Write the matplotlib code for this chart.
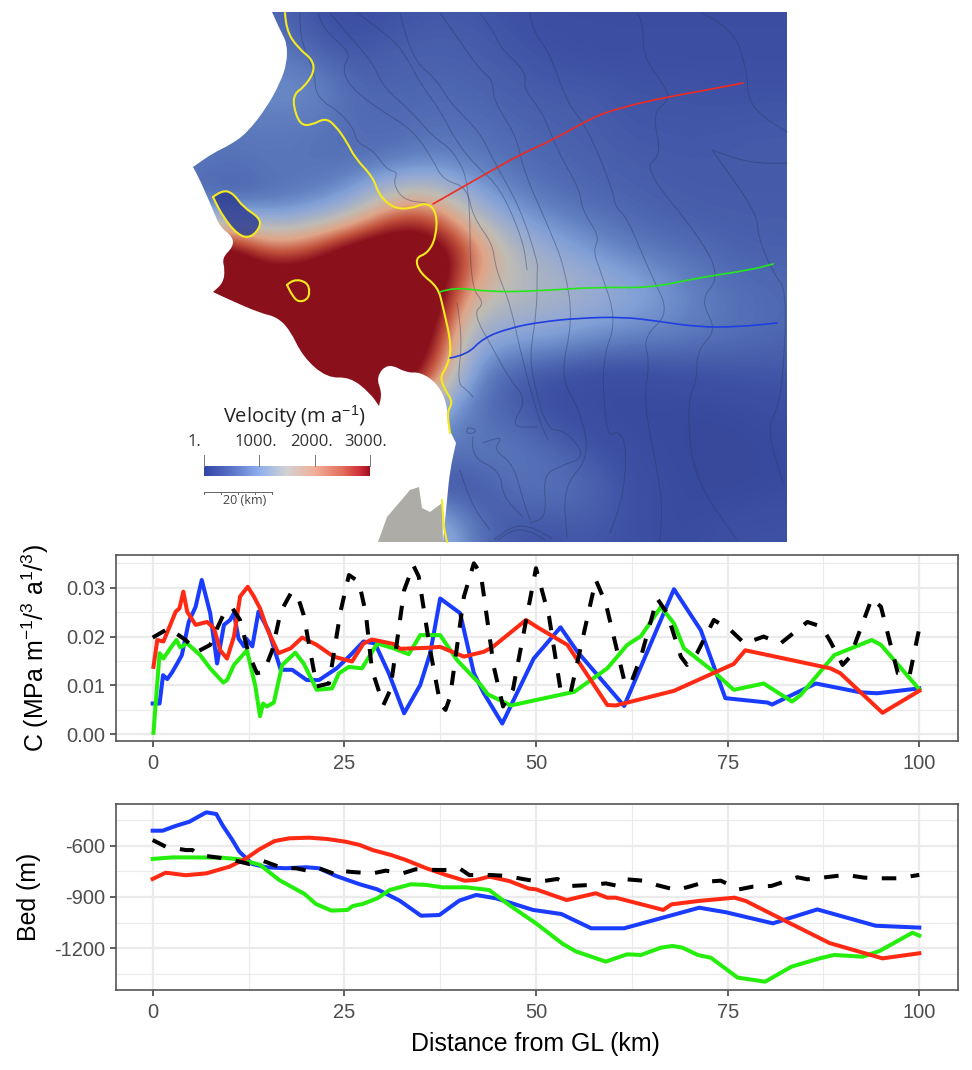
#!/usr/bin/env python3
import matplotlib

matplotlib.use("Agg")
import matplotlib.pyplot as plt
import numpy as np
from matplotlib.colors import LinearSegmentedColormap
from matplotlib.patches import PathPatch, Polygon
from matplotlib.path import Path

plt.rcParams["font.family"] = ["Liberation Sans", "DejaVu Sans"]
plt.rcParams["mathtext.fontset"] = "custom"
plt.rcParams["mathtext.rm"] = "Liberation Sans"
plt.rcParams["mathtext.default"] = "rm"

W, H = 972, 1070
OUT = "out.png"

# --- velocity map
GRID_X = [190, 230, 270, 310, 350, 390, 430, 470, 510, 550, 590, 630, 670, 710, 750, 790]
GRID_Y = [10, 50, 90, 130, 170, 210, 250, 290, 330, 370, 410, 450, 490, 530]
VELOCITY = [
    [400, 400, 400, 260, 190, 240, 290, 290, 240, 190, 190, 190, 190, 190, 190, 190],
    [450, 450, 520, 380, 270, 340, 350, 340, 290, 240, 210, 210, 210, 210, 210, 210],
    [600, 600, 680, 680, 420, 370, 400, 380, 340, 310, 310, 270, 270, 250, 250, 250],
    [500, 500, 500, 480, 430, 420, 450, 450, 400, 360, 340, 290, 290, 290, 310, 310],
    [500, 430, 500, 470, 450, 480, 650, 560, 460, 400, 360, 340, 310, 310, 310, 310],
    [420, 300, 420, 580, 950, 2200, 2400, 1200, 700, 520, 430, 380, 340, 320, 320, 320],
    [3600, 3600, 2400, 2700, 3600, 3800, 3600, 2600, 1400, 1000, 720, 520, 450, 400, 350, 350],
    [3800, 3800, 3800, 3800, 3800, 3800, 3800, 1900, 1450, 1350, 1200, 1000, 720, 500, 430, 400],
    [3800, 3800, 3800, 3800, 3800, 3800, 3400, 1150, 1000, 900, 750, 650, 600, 520, 450, 400],
    [3800, 3800, 3800, 3800, 3800, 3800, 2900, 650, 320, 240, 190, 190, 230, 260, 290, 300],
    [3800, 3800, 3800, 3800, 3800, 3800, 900, 480, 340, 210, 170, 150, 150, 140, 170, 200],
    [500, 500, 500, 500, 500, 500, 500, 520, 540, 400, 270, 190, 160, 140, 140, 170],
    [300, 300, 300, 300, 300, 300, 200, 230, 430, 500, 420, 240, 170, 140, 140, 170],
    [500, 500, 500, 500, 500, 500, 1400, 500, 280, 260, 300, 240, 160, 200, 250, 250],
]
COLOR_STOPS = [0, 250, 500, 800, 1000, 1500, 2000, 2500, 3000]
COLOR_VALUES = ["#2f3e92", "#3f52a5", "#5a78bb", "#7f9fd6", "#95a9d2", "#bfbcb4",
                "#e0a487", "#c4553f", "#8a101c"]
BAR_STOPS = [0, 500, 1000, 1500, 2000, 2500, 2800, 3000]
BAR_VALUES = ["#3346a6", "#5a74c8", "#90b0ee", "#d2d2d2", "#f2b09a", "#e3705c", "#d2343c", "#a01020"]

# repeated points keep the sharp tips of the coast when the outline is curved
DOMAIN_X = [272, 280, 287, 287, 280, 267, 247, 230, 213, 193, 193, 200, 213, 220, 233, 233, 222, 225, 223, 213, 213,
            230, 260, 277, 290, 303, 327, 350, 370, 379, 379, 382, 376, 388, 407, 420, 437, 447, 448, 456, 456, 450,
            447, 443]
DOMAIN_Y = [12, 30, 43, 63, 83, 107, 133, 145, 153, 167, 167, 180, 210, 227, 237, 247, 258, 270, 283, 292, 292,
            300, 313, 317, 330, 357, 378, 377, 393, 406, 406, 393, 377, 363, 373, 372, 383, 403, 427, 443, 443, 470,
            500, 542]
ROCK_X = [378, 387, 410, 419, 422, 430, 442, 443]
ROCK_Y = [542, 517, 490, 487, 508, 512, 503, 542]

GL_NORTH_X = [285, 286, 298, 313, 314, 303, 295, 293, 300, 312, 325, 335, 347, 355, 373, 379, 393, 410,
              427, 437, 436, 428, 415, 420, 438, 443, 452, 447, 440, 445, 453, 447, 450]
GL_NORTH_Y = [13, 30, 48, 60, 73, 88, 93, 105, 125, 125, 118, 125, 142, 158, 177, 195, 208, 209,
              202, 213, 237, 253, 258, 273, 287, 307, 347, 367, 377, 390, 402, 412, 433]
GL_SOUTH_X = [442, 443, 447]
GL_SOUTH_Y = [500, 523, 542]
LAKE_A_X = [213, 222, 233, 243, 260, 260, 250, 238, 223, 213]
LAKE_A_Y = [197, 190, 193, 207, 218, 228, 238, 235, 217, 197]
LAKE_B_X = [287, 293, 307, 310, 307, 298, 292, 287]
LAKE_B_Y = [285, 279, 282, 292, 300, 302, 295, 285]

RED_TRACK_X = [433, 480, 523, 553, 593, 623, 667, 707, 743]
RED_TRACK_Y = [204, 177, 153, 140, 117, 107, 97, 90, 83]
GREEN_TRACK_X = [440, 453, 490, 537, 597, 650, 697, 750, 773]
GREEN_TRACK_Y = [292, 287, 292, 291, 287, 288, 278, 270, 264]
BLUE_TRACK_X = [450, 467, 483, 510, 540, 580, 623, 657, 697, 737, 777]
BLUE_TRACK_Y = [358, 355, 338, 328, 322, 318, 317, 321, 327, 327, 323]

CONTOURS = [
    ([300, 299, 315, 315, 323, 337, 353, 357, 373, 387, 398, 393, 403, 427],
     [13, 37, 73, 90, 102, 110, 127, 143, 150, 170, 172, 183, 200, 203]),
    ([318, 323, 352, 342, 350, 380, 413, 433, 443, 467, 473, 492, 495, 500, 510, 523, 540, 548],
     [13, 30, 53, 68, 87, 110, 130, 160, 180, 187, 217, 243, 263, 280, 303, 363, 423, 440]),
    ([330, 350, 373, 383, 410, 433, 453, 470, 470, 485, 473, 492, 510, 527, 510, 537],
     [13, 37, 63, 87, 110, 137, 150, 183, 287, 303, 313, 347, 380, 400, 427, 427]),
    ([357, 393, 410, 420, 440, 457, 477, 500, 523, 527],
     [13, 38, 63, 83, 110, 143, 167, 187, 240, 270]),
    ([400, 410, 437, 450, 480, 493, 520, 538, 537, 537, 530, 533, 547, 565, 587, 557, 543, 547, 530],
     [13, 57, 80, 103, 132, 160, 207, 263, 270, 310, 353, 380, 430, 430, 457, 467, 477, 517, 523]),
    ([440, 457, 480, 493, 493, 517, 523, 553, 565, 573, 560, 580, 590, 563, 567],
     [13, 37, 70, 80, 100, 137, 170, 237, 270, 320, 377, 410, 457, 487, 537]),
    ([480, 493, 500, 527, 523, 543, 557, 580, 582, 600, 593, 600, 617, 602, 605, 610, 618, 627, 623, 610],
     [13, 30, 47, 73, 88, 113, 150, 190, 210, 237, 250, 270, 320, 360, 420, 437, 430, 447, 497, 533]),
    ([530, 532, 550, 567, 587, 613, 615, 627, 650, 670, 643, 650, 643, 663, 660],
     [13, 30, 53, 103, 127, 190, 207, 217, 273, 313, 337, 363, 403, 497, 540]),
    ([637, 643, 643, 663, 670, 652, 662, 643, 700, 720, 700, 717, 697, 697, 687, 693, 737],
     [13, 20, 57, 83, 100, 113, 155, 168, 237, 277, 300, 330, 350, 380, 403, 477, 540]),
    ([702, 733, 747, 748, 763, 787], [13, 28, 70, 100, 117, 132]),
    ([787, 755, 712, 712, 757, 758, 773, 787, 783, 777, 767, 783],
     [163, 165, 150, 150, 213, 237, 273, 290, 380, 410, 430, 483]),
    ([457, 463, 457, 467, 473], [303, 337, 383, 390, 397]),
    ([473, 470, 500, 503, 523], [437, 457, 470, 497, 517]),
    ([483, 490, 503, 493, 513, 523, 530], [443, 440, 437, 450, 463, 500, 520]),
    ([460, 470, 490], [470, 503, 530]),
    ([468, 474, 476, 470, 466, 468], [428, 428, 432, 434, 432, 428]),
    ([494, 510, 530, 552], [540, 526, 526, 538]),
    ([498, 510, 528, 545], [540, 530, 530, 540]),
]
COLORBAR_TICKS = [1, 1000, 2000, 3000]
COLORBAR_LABELS = ["1.", "1000.", "2000.", "3000."]

# --- profiles
C_BLUE_X = [0, 0.9, 1.35, 1.9, 2.5, 3.2, 3.8, 4.7, 5.6, 6.4, 7.5, 8.4, 9.3, 10.1, 10.6, 11.2, 11.9, 12.2, 13, 13.8,
            15.1, 16.7, 18.2, 20.1, 21.7, 24, 25.8, 27.5, 29, 30.8, 32.8, 34.9, 36.2, 37.5, 40.1, 41.9, 43.2, 45.6,
            49.7, 53.2, 55.4, 61.5, 68, 71.5, 74.7, 80.2, 80.8, 86.5, 92.3, 94.5, 100]
C_BLUE_Y = [.0063, .0063, .0121, .0113, .0126, .0145, .0162, .023, .0261, .0316, .0248, .0145, .0224, .0234, .0248,
            .0196, .018, .0196, .018, .0251, .0213, .0132, .0132, .0111, .0111, .0135, .0162, .019, .0186, .0125,
            .0043, .0101, .0166, .0278, .0248, .0125, .0084, .0022, .0155, .0219, .0169, .0058, .0297, .0213,
            .0074, .0065, .0061, .0104, .0086, .0084, .0094]
C_GREEN_X = [0.1, 0.9, 1.4, 2.3, 3.1, 3.6, 4.5, 6.2, 7.5, 9.2, 9.7, 10.6, 12.3, 13, 13.4, 14, 14.4, 14.9, 15.8, 16.9,
             18.6, 19.7, 21.4, 23.4, 24.3, 25.6, 27.3, 29.3, 31.4, 33.4, 34.9, 37.5, 39.7, 42.8, 43.7, 46.7, 55,
             59.3, 61.9, 63.7, 66.3, 68, 69.3, 73.2, 75.8, 79.7, 83.4, 84.5, 88.9, 93.8, 95, 100]
C_GREEN_Y = [.0003, .0166, .0155, .0176, .0193, .0178, .0186, .0162, .0135, .0106, .0111, .0142, .0172, .0125, .0098,
             .0037, .0063, .0057, .0065, .0142, .0167, .0145, .0091, .0094, .0125, .0138, .0135, .0186, .0176, .0164,
             .0203, .0203, .0152, .0101, .0082, .0059, .0087, .0135, .0183, .0201, .0261, .0227, .0176, .0128, .0091,
             .0104, .0067, .008, .0162, .0193, .0183, .0092]
C_RED_X = [0.1, 0.6, 1.4, 2.3, 3, 3.5, 4, 4.5, 5.6, 7.1, 8, 8.8, 9.7, 10.6, 11.4, 12.4, 13.2, 14, 14.9, 16.4, 18, 19.5,
           21.4, 23.6, 26, 27.5, 28.6, 31.4, 32.3, 35.8, 37.5, 40.6, 43.2, 44.3, 48.7, 50.2, 54.1, 59.3, 60.4, 68,
           75.8, 77.3, 88.4, 89.7, 95.2, 100]
C_RED_Y = [.0138, .0193, .019, .0224, .0251, .0258, .0292, .0251, .0224, .023, .0217, .0172, .0155, .02, .0282, .0302,
           .0282, .0258, .0217, .0166, .0176, .0198, .0183, .0159, .0149, .0186, .0194, .0185, .0175, .0177, .0179,
           .0159, .0169, .0178, .0234, .0219, .0183, .006, .0059, .0089, .0144, .0172, .0135, .0125, .0044, .0089]
C_BLACK_X = [0, 2.1, 4.3, 5.8, 7.5, 8.2, 9.5, 10.4, 11.4, 12.5, 13.6, 14.5, 15.6, 16.7, 18, 18.8, 19.7, 20.6, 21.4, 23,
             24.5, 25.6, 26.9, 27.8, 28.6, 30.1, 31, 32.8, 34, 34.7, 36.2, 37.5, 38.2, 38.8, 40.6, 41.9, 42.8, 44.5,
             45.7, 47, 50, 51.7, 53.2, 54.5, 57.8, 59.1, 61.5, 62.3, 63.7, 65.8, 67.1, 68.9, 69.7, 71, 73.2, 75.4,
             77.2, 79.7, 81.9, 85.4, 87.3, 88.4, 90, 91, 93.8, 95, 97.2, 98.7, 100]
C_BLACK_Y = [.0198, .0217, .0193, .0169, .0183, .021, .0254, .0258, .0234, .0166, .0125, .0128, .0172, .0251, .0288,
             .0288, .0244, .0166, .0098, .0104, .0251, .0326, .0312, .0248, .0132, .006, .0091, .0295, .0346, .0323,
             .0172, .0063, .005, .0077, .0282, .035, .0329, .0138, .0057, .0092, .034, .0241, .0091, .0084, .0316,
             .0268, .0111, .0101, .0159, .0278, .0248, .0159, .0142, .0166, .0234, .0213, .0186, .02, .0186, .023,
             .022, .019, .0142, .0159, .0278, .0261, .0125, .0118, .0217]

BED_BLUE_X = [0, 1.3, 3, 4.8, 6.1, 7, 8.3, 9.1, 10.4, 11.3, 13, 14.8, 17.4, 20, 21.7, 23.9, 27, 29.3, 32.2, 35, 37.4,
              40, 42.2, 44.8, 49.6, 53.3, 57.2, 61.5, 71.3, 74.8, 80.9, 86.7, 94.3, 100]
BED_BLUE_Y = [-510, -510, -482, -457, -424, -402, -412, -477, -565, -633, -706, -725, -731, -725, -731, -776, -825,
              -855, -921, -1010, -1006, -921, -888, -908, -976, -1000, -1084, -1084, -963, -990, -1055, -973, -1069,
              -1080]
BED_GREEN_X = [0, 2.6, 5.2, 9.1, 11.3, 14, 16.5, 19.8, 21.3, 23.3, 25.4, 26.1, 27.4, 29.3, 30.9, 33.7, 35.7, 37.8, 40.9,
               43.9, 46.5, 50, 53.5, 55.2, 59.1, 61.9, 63.7, 66.3, 67.8, 69.1, 71.1, 72.8, 76.3, 79.9, 83.3, 87, 88.9,
               92.6, 94.8, 99.1, 100]
BED_GREEN_Y = [-676, -667, -667, -669, -678, -711, -800, -882, -941, -980, -976, -953, -941, -908, -859, -825, -829,
               -843, -843, -859, -947, -1055, -1176, -1220, -1280, -1237, -1241, -1198, -1188, -1198, -1241, -1257,
               -1374, -1398, -1310, -1261, -1241, -1251, -1218, -1110, -1127]
BED_RED_X = [0, 1.7, 4.3, 7, 10, 12.2, 13.9, 15.9, 17.8, 20.4, 22.8, 25.2, 27, 28.7, 31.1, 33, 35.7, 38.3, 40.7, 42.2,
             43.9, 46.5, 49.1, 50, 54, 57.8, 59.3, 60.4, 66.6, 67.7, 71.3, 75.9, 77.4, 81.7, 88.3, 95.2, 100]
BED_RED_Y = [-794, -757, -772, -761, -722, -673, -620, -571, -555, -551, -559, -575, -594, -624, -653, -682, -731,
             -771, -804, -800, -780, -806, -851, -855, -918, -878, -904, -904, -976, -943, -923, -904, -924, -1022,
             -1171, -1261, -1231]
BED_BLACK_X = [0, 1.7, 4.3, 5.2, 6, 8.7, 10.4, 12.6, 14.3, 17, 18.7, 20.4, 21.7, 24.1, 24.8, 26, 28.7, 30.4, 32.6, 34.3,
               37, 38.7, 40, 41.3, 44.3, 46.1, 48.5, 50.4, 52.8, 54.6, 57.2, 59.1, 60.7, 61.8, 64, 65.7, 68.3, 70,
               72.2, 74.1, 76.5, 78.3, 80.7, 81.7, 84.1, 85.4, 88.5, 90.4, 92.8, 94.8, 97.2, 100]
BED_BLACK_Y = [-565, -604, -624, -624, -653, -669, -682, -706, -686, -731, -731, -747, -731, -771, -747, -753, -761,
               -745, -761, -737, -741, -741, -731, -771, -771, -776, -796, -810, -794, -835, -829, -820, -835, -796,
               -804, -829, -859, -839, -810, -804, -855, -839, -835, -820, -784, -796, -780, -770, -786, -790, -790,
               -770]

BLUE = "#1a3cff"
GREEN = "#25ee0c"
RED = "#ff2a14"
TICK_GREY = "#4d4d4d"
GRID_GREY = "#ebebeb"
FS_TICK = 14.5
FS_LABEL = 17.9


def px_axes(fig, left, top, right, bottom):
    return fig.add_axes([left / W, 1 - bottom / H, (right - left) / W, (bottom - top) / H])


def smooth(xs, ys):
    # quadratic curve through the traced points, for outlines on the map
    pts = np.column_stack([xs, ys]).astype(float)
    verts = [pts[0]]
    codes = [Path.MOVETO]
    for i in range(1, len(pts) - 1):
        mid = (pts[i] + pts[i + 1]) / 2
        verts += [pts[i], mid]
        codes += [Path.CURVE3, Path.CURVE3]
    verts.append(pts[-1])
    codes.append(Path.LINETO)
    return verts, codes


def add_line(ax, xs, ys, color, lw, alpha=1.0, zorder=4):
    verts, codes = smooth(xs, ys)
    ax.add_patch(PathPatch(Path(verts, codes), fc="none", ec=color, lw=lw, alpha=alpha, zorder=zorder,
                           capstyle="round", joinstyle="round"))


def draw_map(fig):
    ax = fig.add_axes([0, 0, 1, 1])
    ax.set_xlim(0, W)
    ax.set_ylim(H, 0)
    ax.axis("off")

    cmap = LinearSegmentedColormap.from_list(
        "velocity", [(v / 3000, c) for v, c in zip(COLOR_STOPS, COLOR_VALUES)])
    bar_cmap = LinearSegmentedColormap.from_list(
        "velocity_bar", [(v / 3000, c) for v, c in zip(BAR_STOPS, BAR_VALUES)])
    step = GRID_X[1] - GRID_X[0]
    im = ax.imshow(np.array(VELOCITY, dtype=float),
                   extent=(GRID_X[0] - step / 2, GRID_X[-1] + step / 2, GRID_Y[-1] + step / 2, GRID_Y[0] - step / 2),
                   cmap=cmap, vmin=0, vmax=3000, interpolation="bicubic",
                   interpolation_stage="data", aspect="auto", zorder=1)
    ax.set_xlim(0, W)
    ax.set_ylim(H, 0)
    verts, codes = smooth(DOMAIN_X, DOMAIN_Y)
    verts += [(787, 542), (787, 12), (272, 12)]
    codes += [Path.LINETO, Path.LINETO, Path.CLOSEPOLY]
    domain = PathPatch(Path(verts, codes), fc="none", ec="none", transform=ax.transData)
    ax.add_patch(domain)
    im.set_clip_path(domain)

    # slow ice inside the lake outline, too small for the coarse grid
    lake_verts, lake_codes = smooth(LAKE_A_X, LAKE_A_Y)
    ax.add_patch(PathPatch(Path(lake_verts, lake_codes), fc="#2f3e92", ec="none", alpha=0.85, zorder=1.5))

    for xs, ys in CONTOURS:
        add_line(ax, xs, ys, "#2b3560", 0.7, alpha=0.42, zorder=2)
    ax.add_patch(Polygon(list(zip(ROCK_X, ROCK_Y)), closed=True, fc="#adaca6", ec="none", zorder=3))

    for xs, ys in [(GL_NORTH_X, GL_NORTH_Y), (GL_SOUTH_X, GL_SOUTH_Y), (LAKE_A_X, LAKE_A_Y), (LAKE_B_X, LAKE_B_Y)]:
        add_line(ax, xs, ys, "#f5ea1e", 1.5)
    add_line(ax, RED_TRACK_X, RED_TRACK_Y, "#f02a20", 1.2, zorder=5)
    add_line(ax, GREEN_TRACK_X, GREEN_TRACK_Y, "#25e81a", 1.2, zorder=5)
    add_line(ax, BLUE_TRACK_X, BLUE_TRACK_Y, "#1f3fe0", 1.2, zorder=5)

    # colour bar
    bar = np.linspace(COLORBAR_TICKS[0], COLORBAR_TICKS[-1], 256)[None, :]
    ax.imshow(bar, extent=(204, 370, 476, 466), cmap=bar_cmap, vmin=0, vmax=3000, aspect="auto", zorder=6)
    ax.set_xlim(0, W)
    ax.set_ylim(H, 0)
    label_x = [194, 256, 311, 366]
    for tick, text, lx in zip(COLORBAR_TICKS, COLORBAR_LABELS, label_x):
        tx = 204 + (tick - 1) / 2999 * 166
        ax.plot([tx, tx], [455, 466], color="#777777", lw=0.7, zorder=6)
        ax.text(lx, 442, text, ha="center", va="center", fontsize=12, color="#333333", family="Open Sans")
    ax.text(294, 417, "Velocity (m a$^{-1}$)", ha="center", va="center", fontsize=14.5, color="#222222",
            family="Open Sans")
    ax.plot([204, 272], [492, 492], color="#666666", lw=0.7, zorder=6)
    for tx in [204, 221, 238, 255, 272]:
        ax.plot([tx, tx], [492, 494], color="#666666", lw=0.7, zorder=6)
    ax.text(245, 500, "20 (km)", ha="center", va="center", fontsize=9, color="#444444", family="Open Sans")


def style_profile(ax, ylim, yticks, yminor, ylabels):
    ax.set_xlim(-4.85, 105.05)
    ax.set_ylim(*ylim)
    ax.set_xticks([0, 25, 50, 75, 100])
    ax.set_xticks([12.5, 37.5, 62.5, 87.5], minor=True)
    ax.set_yticks(yticks)
    ax.set_yticklabels(ylabels)
    ax.set_yticks(yminor, minor=True)
    ax.grid(True, which="major", color=GRID_GREY, lw=1.6)
    ax.grid(True, which="minor", color=GRID_GREY, lw=0.8)
    ax.set_axisbelow(True)
    ax.tick_params(which="major", length=4.5, width=1.1, color="#333333", labelcolor=TICK_GREY,
                   labelsize=FS_TICK, pad=3)
    ax.tick_params(axis="x", which="major", pad=5)
    ax.tick_params(which="minor", length=0)
    for spine in ax.spines.values():
        spine.set_color("#555555")
        spine.set_linewidth(1.2)


def draw_profile(ax, blue, green, red, black):
    lw = 2.9
    ax.plot(*blue, color=BLUE, lw=lw, solid_joinstyle="round", zorder=3)
    ax.plot(*green, color=GREEN, lw=lw, solid_joinstyle="round", zorder=3.1)
    ax.plot(*red, color=RED, lw=lw, solid_joinstyle="round", zorder=3.2)
    ax.plot(*black, color="black", lw=lw, linestyle=(0, (3.6, 3.6)), dash_joinstyle="round", dash_capstyle="butt",
            zorder=3.3)


def main():
    fig = plt.figure(figsize=(W / 100, H / 100), dpi=100)
    draw_map(fig)

    ax = px_axes(fig, 115.5, 555, 958, 741)
    style_profile(ax, (-0.00137, 0.0367), [0, 0.01, 0.02, 0.03], [0.005, 0.015, 0.025, 0.035],
                  ["0.00", "0.01", "0.02", "0.03"])
    draw_profile(ax, (C_BLUE_X, C_BLUE_Y), (C_GREEN_X, C_GREEN_Y), (C_RED_X, C_RED_Y), (C_BLACK_X, C_BLACK_Y))

    ax = px_axes(fig, 115.5, 804, 958, 990)
    style_profile(ax, (-1447, -353), [-1200, -900, -600], [-1350, -1050, -750, -450],
                  ["-1200", "-900", "-600"])
    draw_profile(ax, (BED_BLUE_X, BED_BLUE_Y), (BED_GREEN_X, BED_GREEN_Y), (BED_RED_X, BED_RED_Y),
                 (BED_BLACK_X, BED_BLACK_Y))

    fig.text(35 / W, 1 - 648 / H, "C (MPa m$^{-1}$/$^{3}$ a$^{1}$/$^{3}$)", rotation=90, ha="center", va="center",
             fontsize=FS_LABEL)
    fig.text(29 / W, 1 - 897 / H, "Bed (m)", rotation=90, ha="center", va="center", fontsize=FS_LABEL)
    fig.text(535 / W, 1 - 1044 / H, "Distance from GL (km)", ha="center", va="center", fontsize=FS_LABEL)

    fig.savefig(OUT, dpi=100)
    print(f"wrote {OUT}")


if __name__ == "__main__":
    main()
